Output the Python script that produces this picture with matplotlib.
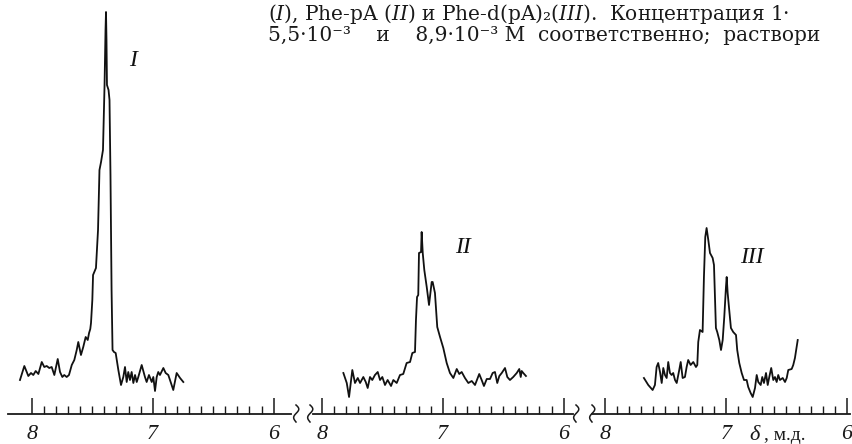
import numpy as np
import matplotlib
matplotlib.use("Agg")
import matplotlib.pyplot as plt
from matplotlib.lines import Line2D

plt.rcParams["mathtext.fontset"] = "dejavuserif"

# ---------------- data (chemical shift, ppm ; intensity, arb. units) -------------
ppm_I = [8.097, 8.061, 8.028, 8.006, 7.987, 7.967, 7.945, 7.917, 7.896, 7.876,
         7.855, 7.835, 7.813, 7.785, 7.766, 7.747, 7.731, 7.711, 7.692, 7.669,
         7.648, 7.628, 7.615, 7.593, 7.574, 7.554, 7.537, 7.526, 7.516, 7.510,
         7.499, 7.493, 7.469, 7.452, 7.440, 7.427, 7.411, 7.398, 7.390, 7.386,
         7.382, 7.378, 7.365, 7.357, 7.349, 7.340, 7.332, 7.320, 7.306, 7.284,
         7.262, 7.243, 7.229, 7.215, 7.202, 7.188, 7.174, 7.160, 7.146, 7.132,
         7.119, 7.091, 7.064, 7.050, 7.031, 7.008, 6.995, 6.981, 6.967, 6.954,
         6.940, 6.912, 6.893, 6.871, 6.849, 6.830, 6.802, 6.774, 6.747]
int_I = [34, 48, 38, 41, 39, 43, 40, 52, 47, 48,
         46, 47, 39, 55, 42, 37, 39, 37, 39, 49,
         54, 64, 72, 59, 67, 77, 74, 81, 85, 91,
         114, 139, 146, 184, 244, 252, 264, 329, 384, 402,
         374, 329, 324, 314, 239, 124, 64, 62, 61, 44,
         29, 37, 47, 32, 42, 34, 42, 31, 39, 32,
         37, 49, 37, 32, 39, 32, 37, 23, 37, 42,
         39, 46, 41, 39, 31, 24, 41, 36, 32]

ppm_II = [7.821, 7.793, 7.774, 7.747, 7.725, 7.702, 7.683, 7.656, 7.636, 7.620,
          7.601, 7.582, 7.560, 7.537, 7.518, 7.499, 7.477, 7.455, 7.427, 7.408,
          7.380, 7.353, 7.326, 7.298, 7.270, 7.251, 7.229, 7.221, 7.212, 7.202,
          7.196, 7.179, 7.174, 7.165, 7.152, 7.132, 7.113, 7.091, 7.083, 7.064,
          7.045, 7.022, 6.995, 6.967, 6.940, 6.912, 6.884, 6.863, 6.843, 6.816,
          6.788, 6.760, 6.733, 6.698, 6.678, 6.659, 6.636, 6.609, 6.587, 6.568,
          6.549, 6.532, 6.512, 6.485, 6.466, 6.444, 6.417, 6.388, 6.367, 6.355,
          6.347, 6.334, 6.312]
int_II = [41, 31, 17, 44, 31, 36, 31, 37, 32, 26,
          37, 34, 39, 42, 34, 37, 29, 34, 28, 34,
          31, 39, 40, 51, 52, 61, 62, 94, 117, 119,
          161, 162, 182, 161, 144, 127, 109, 132, 132, 121,
          87, 77, 66, 51, 41, 36, 45, 40, 42, 36,
          31, 33, 29, 40, 34, 28, 35, 35, 41, 42,
          31, 38, 41, 46, 37, 34, 37, 41, 45, 37,
          43, 41, 38]

ppm_III = [7.678, 7.642, 7.606, 7.587, 7.573, 7.560, 7.545, 7.531, 7.518, 7.504,
           7.490, 7.477, 7.463, 7.449, 7.436, 7.421, 7.407, 7.386, 7.374, 7.358,
           7.339, 7.325, 7.312, 7.292, 7.270, 7.248, 7.237, 7.229, 7.215, 7.193,
           7.182, 7.171, 7.160, 7.146, 7.132, 7.110, 7.099, 7.083, 7.072, 7.055,
           7.041, 7.027, 7.014, 7.000, 6.994, 6.986, 6.973, 6.959, 6.940, 6.917,
           6.907, 6.890, 6.870, 6.851, 6.829, 6.816, 6.796, 6.779, 6.760, 6.746,
           6.733, 6.713, 6.700, 6.686, 6.669, 6.655, 6.642, 6.626, 6.609, 6.595,
           6.581, 6.568, 6.554, 6.531, 6.512, 6.498, 6.485, 6.457, 6.444, 6.430,
           6.416, 6.407]
int_III = [36, 29, 24, 29, 47, 51, 42, 31, 46, 39,
           36, 52, 41, 39, 41, 34, 31, 44, 52, 36,
           37, 47, 54, 49, 52, 47, 49, 72, 84, 82,
           137, 177, 186, 174, 161, 156, 149, 86, 82, 74,
           64, 74, 97, 127, 137, 121, 104, 86, 82, 79,
           64, 51, 41, 34, 34, 27, 21, 17, 26, 39,
           32, 29, 37, 31, 41, 29, 37, 46, 34, 37,
           32, 39, 34, 36, 32, 36, 44, 45, 49, 56,
           67, 74]

major_ticks = [8, 7, 6]
major_labels = ["8", "7", "6"]
minor_ticks = [round(v, 1) for v in np.arange(6.1, 8.0, 0.1) if abs(v - 7) > 0.05]
panel_labels = ["I", "II", "III"]
caption_1 = ("($\\mathit{I}$), Phe-pA ($\\mathit{II}$) и Phe-d(pA)₂($\\mathit{III}$)."
             "  Концентрация 1·")
caption_2 = "5,5·10⁻³    и    8,9·10⁻³ М  соответственно;  раствори"
axis_label_sym = "δ"
axis_label_unit = ", м.д."

# ---------------- layout ----------------
W, H = 853, 444
fig = plt.figure(figsize=(W / 100, H / 100), dpi=100)
serif = ["Liberation Serif", "DejaVu Serif"]
cap_font = ["DejaVu Serif"]
base_px = 414          # y pixel of the scale line
top_px = 0

# (left px, right px, ppm at left, ppm at right)
panels = [
    (8, 291, 8.196, 5.857),
    (313, 573, 8.072, 5.923),
    (592, 850, 8.107, 5.975),
]
spectra = [(ppm_I, int_I), (ppm_II, int_II), (ppm_III, int_III)]
label_pos = [(7.163, 354), (6.832, 167), (6.785, 157)]

axes = []
for (lp, rp, a, b), (px, iy), lab, (lx, ly) in zip(panels, spectra, panel_labels, label_pos):
    ax = fig.add_axes([lp / W, (H - base_px) / H, (rp - lp) / W, (base_px - top_px) / H])
    ax.set_xlim(a, b)
    ax.set_ylim(0, base_px - top_px)
    ax.patch.set_alpha(0)
    for s in ["left", "right", "top"]:
        ax.spines[s].set_visible(False)
    ax.spines["bottom"].set_linewidth(1.3)
    ax.spines["bottom"].set_color("#1a1a1a")
    ax.set_yticks([])
    ax.set_xticks(major_ticks)
    ax.set_xticklabels(major_labels)
    ax.set_xticks(minor_ticks, minor=True)
    ax.tick_params(axis="x", which="major", direction="in", length=11.5, width=1.1,
                   color="#1a1a1a", pad=8)
    ax.tick_params(axis="x", which="minor", direction="in", length=5.5, width=1.0,
                   color="#1a1a1a")
    for t in ax.get_xticklabels():
        t.set_fontfamily(serif)
        t.set_fontstyle("italic")
        t.set_fontsize(16)
        t.set_color("#1a1a1a")
    ax.plot(px, iy, color="#111111", lw=1.3, solid_joinstyle="round")
    ax.text(lx, ly, lab, fontfamily=serif, fontstyle="italic", fontsize=17,
            ha="center", va="center", color="#111111")
    axes.append(ax)

# axis label in the third panel
ax3 = axes[2]
ax3.text(6.81, -0.052, axis_label_sym, transform=ax3.get_xaxis_transform(),
         fontfamily=serif, fontstyle="italic", fontsize=16, ha="left", va="center",
         color="#1a1a1a")
ax3.text(6.685, -0.052, axis_label_unit, transform=ax3.get_xaxis_transform(),
         fontfamily=serif, fontsize=14, ha="left", va="center", color="#1a1a1a")

# axis break squiggles (decoration)
def squiggle(x0):
    t = np.linspace(0, 1, 40)
    xs = x0 + 3.0 * np.sin(2 * np.pi * t) * (1 - 0.3 * t)
    ys = 405 + 17 * t
    fig.add_artist(Line2D(xs / W, 1 - ys / H, color="#1a1a1a", lw=1.1))

for x0 in [296, 310, 576, 592]:
    squiggle(x0)

# caption text at top (partly cut like the scan)
fig.text(268 / W, 1 - 20 / H, caption_1, fontfamily=cap_font, fontsize=14.5,
         va="baseline", ha="left", color="#1a1a1a")
fig.text(268 / W, 1 - 41 / H, caption_2, fontfamily=cap_font, fontsize=14.5,
         va="baseline", ha="left", color="#1a1a1a")

fig.savefig("out.png", dpi=100)
